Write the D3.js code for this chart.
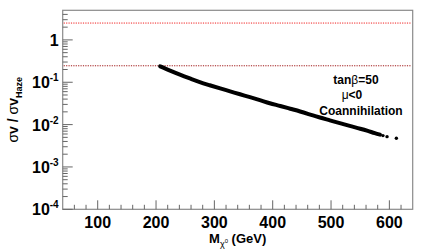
<!DOCTYPE html>
<html>
<head>
<meta charset="utf-8">
<script src="https://cdn.jsdelivr.net/npm/d3@7"></script>
<style>
  body { margin: 0; background: #fff; }
  svg { display: block; font-family: "Liberation Sans", Arial, sans-serif; }
  .tick-label { font-size: 16px; font-weight: bold; fill: #000; }
  .axis-title { font-size: 13px; font-weight: bold; fill: #000; }
  .note { font-size: 12px; font-weight: bold; fill: #000; }
</style>
</head>
<body>
<div id="chart"></div>
<script>
// data
const massPoints = [207, 224, 241, 258, 275, 292, 310, 327, 344, 361, 378, 395, 413, 430, 447, 469, 481, 498, 515, 532, 550, 563, 575, 584];
const ratioPoints = [0.237, 0.188, 0.151, 0.123, 0.101, 0.085, 0.0715, 0.061, 0.052, 0.0445, 0.0378, 0.032, 0.0275, 0.0237, 0.0204, 0.0165, 0.0147, 0.0126, 0.0108, 0.0093, 0.0080, 0.0071, 0.0063, 0.0058];
const tailMass = [589, 596, 612];
const tailRatio = [0.0055, 0.0052, 0.00475];
const hazeLines = [2.5, 0.245];
const xTicks = [100, 200, 300, 400, 500, 600];
const yTickExp = [-4, -3, -2, -1, 0];

const W = 423, H = 249;
const plot = {left: 62.7, right: 412.7, top: 10.3, bottom: 209.3};

const svg = d3.select("#chart").append("svg")
    .attr("width", W).attr("height", H);

const x = d3.scaleLinear().domain([40, 640]).range([plot.left, plot.right]);
const y = d3.scaleLog().domain([1e-4, 5]).range([plot.bottom, plot.top]);

// frame
svg.append("rect")
    .attr("x", plot.left).attr("y", plot.top)
    .attr("width", plot.right - plot.left).attr("height", plot.bottom - plot.top)
    .attr("fill", "none").attr("stroke", "#8a8a8a").attr("stroke-width", 1.2);

// x ticks (major every 100, minor every 20)
const xMinor = d3.range(60, 640, 20).filter(v => v % 100 !== 0);
svg.append("g").selectAll("line").data(xMinor).join("line")
    .attr("x1", d => x(d)).attr("x2", d => x(d))
    .attr("y1", plot.bottom).attr("y2", plot.bottom - 4.5)
    .attr("stroke", "#666");
svg.append("g").selectAll("line").data(xTicks).join("line")
    .attr("x1", d => x(d)).attr("x2", d => x(d))
    .attr("y1", plot.bottom).attr("y2", plot.bottom - 9)
    .attr("stroke", "#666");
svg.append("g").selectAll("text").data(xTicks).join("text")
    .attr("class", "tick-label")
    .attr("x", d => x(d)).attr("y", plot.bottom + 19)
    .attr("text-anchor", "middle")
    .text(d => d);

// y ticks
const yMinor = [];
yTickExp.forEach(e => { for (let k = 2; k <= 9; k++) { const v = k * Math.pow(10, e); if (v < 5) yMinor.push(v); } });
svg.append("g").selectAll("line").data(yMinor).join("line")
    .attr("x1", plot.left).attr("x2", plot.left + 5)
    .attr("y1", d => y(d)).attr("y2", d => y(d))
    .attr("stroke", "#666");
svg.append("g").selectAll("line").data(yTickExp).join("line")
    .attr("x1", plot.left).attr("x2", plot.left + 10)
    .attr("y1", d => y(Math.pow(10, d))).attr("y2", d => y(Math.pow(10, d)))
    .attr("stroke", "#666");

const yLab = svg.append("g").selectAll("text").data(yTickExp).join("text")
    .attr("class", "tick-label")
    .attr("x", plot.left - 4)
    .attr("y", d => y(Math.pow(10, d)) + 6)
    .attr("text-anchor", "end");
yLab.each(function(d) {
  const t = d3.select(this);
  if (d === 0) { t.text("1"); return; }
  t.append("tspan").text("10");
  t.append("tspan").attr("dy", -7).style("font-size", "10px").text(d);
});

// haze reference lines
svg.append("g").selectAll("line").data(hazeLines).join("line")
    .attr("x1", plot.left + 1).attr("x2", plot.right - 1)
    .attr("y1", d => y(d)).attr("y2", d => y(d))
    .attr("stroke", (d, i) => i === 0 ? "#f02020" : "#a01818").attr("stroke-width", 1)
    .attr("stroke-dasharray", "1.2,1.2");

// scatter band
const band = massPoints.map((m, i) => [m, ratioPoints[i]]);
svg.append("path")
    .datum(band)
    .attr("d", d3.line().x(d => x(d[0])).y(d => y(d[1])).curve(d3.curveMonotoneX))
    .attr("fill", "none").attr("stroke", "#000")
    .attr("stroke-width", 4).attr("stroke-linecap", "round");
svg.append("g").selectAll("circle").data(tailMass).join("circle")
    .attr("cx", d => x(d)).attr("cy", (d, i) => y(tailRatio[i]))
    .attr("r", 1.7).attr("fill", "#000");

// annotation
const noteX = 356;
svg.append("text").attr("class", "note").attr("x", noteX).attr("y", 84).attr("text-anchor", "middle")
    .html('tan<tspan style="font-weight:normal">β</tspan>=50');
svg.append("text").attr("class", "note").attr("x", noteX - 4).attr("y", 99).attr("text-anchor", "middle")
    .html('<tspan style="font-weight:normal">μ</tspan>&lt;0');
svg.append("text").attr("class", "note").attr("x", noteX + 5).attr("y", 115).attr("text-anchor", "middle")
    .text("Coannihilation");

// axis titles
svg.append("text").attr("class", "axis-title")
    .attr("x", (plot.left + plot.right) / 2).attr("y", 243)
    .attr("text-anchor", "middle")
    .html('M<tspan dy="4" style="font-size:9px;font-weight:normal">χ</tspan><tspan dy="-4" style="font-size:6px;font-weight:normal">0</tspan><tspan dy="0"> (GeV)</tspan>');

svg.append("text").attr("class", "axis-title")
    .style("font-size", "14px")
    .attr("transform", `translate(18,${(plot.top + plot.bottom) / 2}) rotate(-90)`)
    .attr("text-anchor", "middle")
    .html('<tspan style="font-weight:normal">σ</tspan>v / <tspan style="font-weight:normal">σ</tspan>v<tspan dy="4" style="font-size:9px">Haze</tspan>');
</script>
</body>
</html>
